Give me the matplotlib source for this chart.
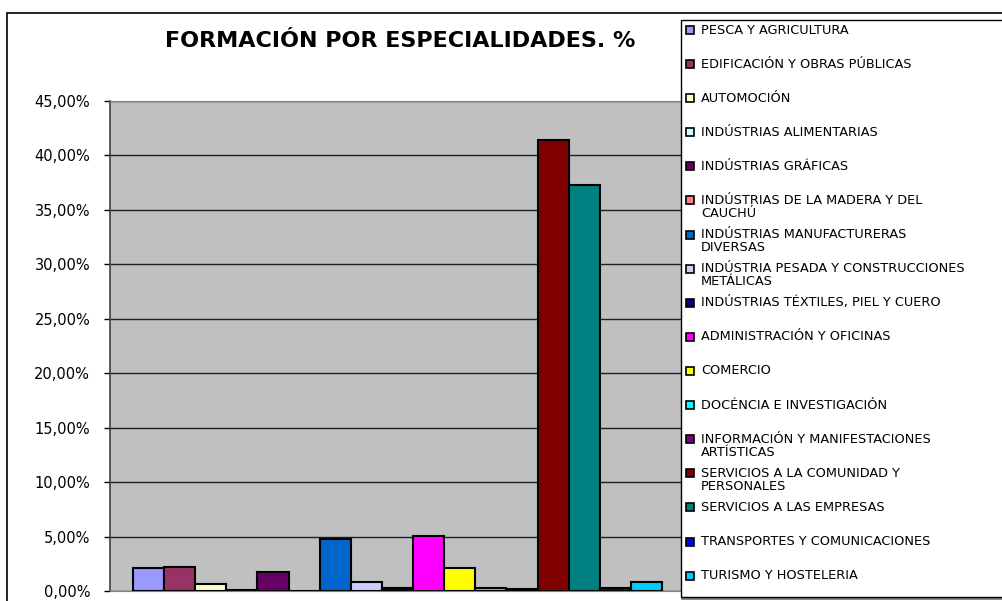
import matplotlib
matplotlib.use("Agg")
import matplotlib.pyplot as plt
from matplotlib.patches import Rectangle
from matplotlib.lines import Line2D

# categories (legend entries) and their share, in %
especialidades = [
    "PESCA Y AGRICULTURA",
    "EDIFICACIÓN Y OBRAS PÚBLICAS",
    "AUTOMOCIÓN",
    "INDÚSTRIAS ALIMENTARIAS",
    "INDÚSTRIAS GRÁFICAS",
    "INDÚSTRIAS DE LA MADERA Y DEL\nCAUCHÚ",
    "INDÚSTRIAS MANUFACTURERAS\nDIVERSAS",
    "INDÚSTRIA PESADA Y CONSTRUCCIONES\nMETÁLICAS",
    "INDÚSTRIAS TÉXTILES, PIEL Y CUERO",
    "ADMINISTRACIÓN Y OFICINAS",
    "COMERCIO",
    "DOCÉNCIA E INVESTIGACIÓN",
    "INFORMACIÓN Y MANIFESTACIONES\nARTÍSTICAS",
    "SERVICIOS A LA COMUNIDAD Y\nPERSONALES",
    "SERVICIOS A LAS EMPRESAS",
    "TRANSPORTES Y COMUNICACIONES",
    "TURISMO Y HOSTELERIA",
]
porcentajes = [2.08, 2.23, 0.61, 0.05, 1.77, 0.02, 4.77, 0.83, 0.30,
               5.02, 2.08, 0.30, 0.15, 41.4, 37.3, 0.25, 0.85]
colores = ["#9999FF", "#993366", "#FFFFCC", "#CCFFFF", "#660066", "#FF8080",
           "#0066CC", "#CCCCFF", "#000080", "#FF00FF", "#FFFF00", "#00FFFF",
           "#800080", "#800000", "#008080", "#0000FF", "#00CCFF"]
yticks = [0, 5, 10, 15, 20, 25, 30, 35, 40, 45]

W, H = 1003, 601
fig = plt.figure(figsize=(W / 100, H / 100), dpi=100)
fig.patch.set_facecolor("white")


def fx(px):
    return px / W


def fy(py):
    return 1 - py / H


# outer chart frame
fig.add_artist(Rectangle((fx(7), fy(700)), fx(1100), fy(13) - fy(700),
                         transform=fig.transFigure, fill=False,
                         edgecolor="black", linewidth=1.2))

ax = fig.add_axes([fx(110), fy(591), fx(685) - fx(110), fy(101) - fy(591)])
ax.set_facecolor("#C0C0C0")

x = list(range(len(porcentajes)))
ax.bar(x, porcentajes, width=1.0, color=colores, edgecolor="black",
       linewidth=1.5, zorder=3)
ax.set_xlim(-1.24, 17.24)
ax.set_ylim(0, 45)
ax.set_yticks(yticks)
ax.set_yticklabels(["%d,00%%" % v for v in yticks], fontsize=10.5,
                   family="DejaVu Sans")
ax.set_xticks([])
ax.yaxis.grid(True, color="#202020", linewidth=1.0, zorder=1)
ax.tick_params(axis="y", direction="out", length=4.3, width=1, pad=10,
               colors="black")
ax.spines["left"].set_color("#404040")
ax.spines["left"].set_linewidth(1.2)
ax.spines["bottom"].set_color("#808080")
ax.spines["top"].set_color("#808080")
ax.spines["right"].set_visible(False)

fig.text(fx(400), fy(41), "FORMACIÓN POR ESPECIALIDADES. %", ha="center",
         va="center", fontsize=16, fontweight="bold", family="DejaVu Sans")

# legend box
fig.add_artist(Line2D([fx(682), fx(1100)], [fy(598), fy(598)],
                      transform=fig.transFigure, color="#808080", linewidth=2))
fig.add_artist(Rectangle((fx(681), fy(597)), fx(1100), fy(20) - fy(597),
                         transform=fig.transFigure, facecolor="white",
                         edgecolor="black", linewidth=1.0, zorder=5))
for i, (lab, col) in enumerate(zip(especialidades, colores)):
    yc = 30 + 34.1 * i
    fig.add_artist(Rectangle((fx(686), fy(yc + 4)), fx(8), fy(yc - 4) - fy(yc + 4),
                             transform=fig.transFigure, facecolor=col,
                             edgecolor="black", linewidth=1.2, zorder=6))
    fig.text(fx(701), fy(yc - 6.5), lab, ha="left", va="top", fontsize=9.3,
             family="DejaVu Sans", linespacing=1.0, zorder=7)

fig.savefig("out.png", dpi=100)
